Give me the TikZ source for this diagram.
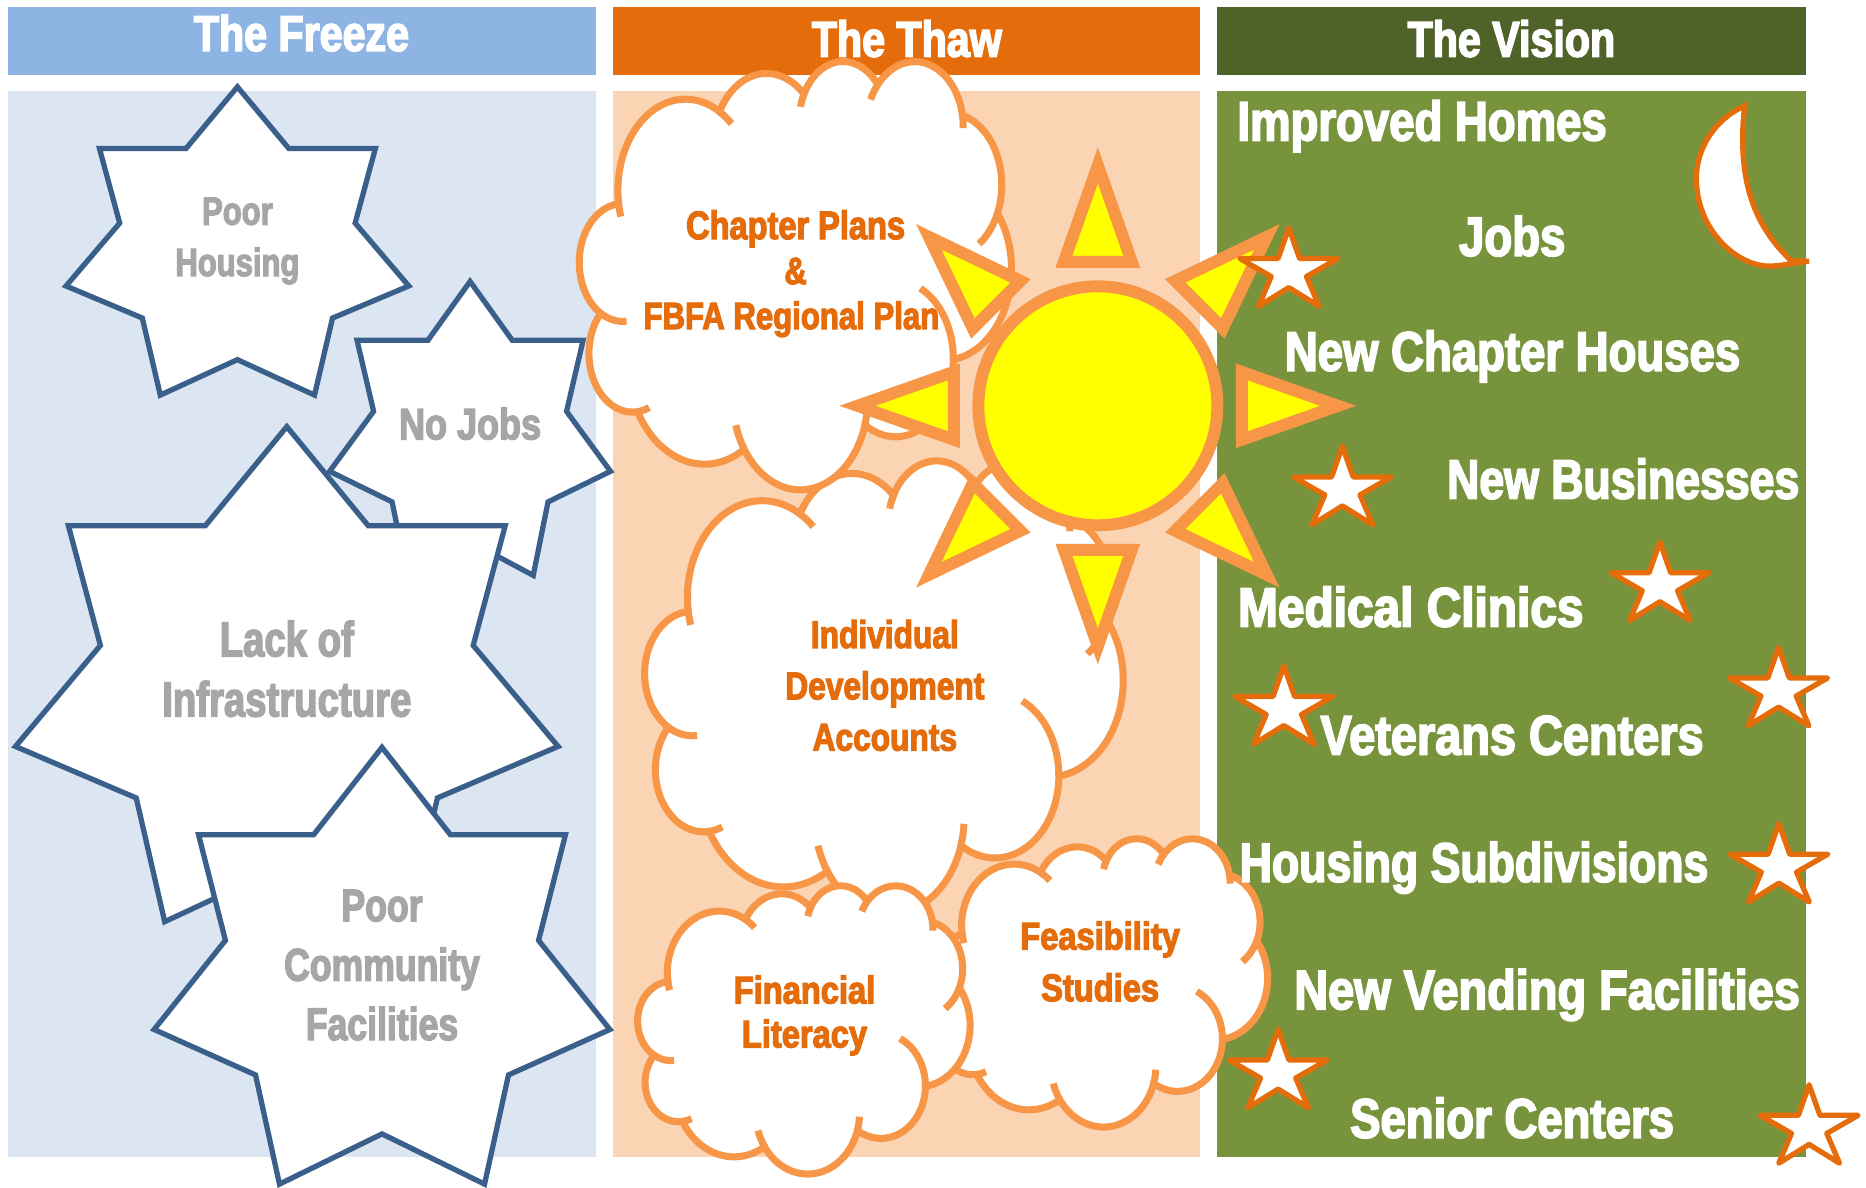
\documentclass[tikz,border=0pt]{standalone}
\usepackage{fontspec}
\newfontfamily\heavyfont[UprightFont=* Bold,FakeStretch=0.82,FakeBold=3]{Liberation Sans}
\definecolor{freezehead}{HTML}{8EB4E3}
\definecolor{freezepanel}{HTML}{DCE6F2}
\definecolor{thawhead}{HTML}{E46C0A}
\definecolor{thawpanel}{HTML}{FBD4B4}
\definecolor{visionhead}{HTML}{4F6228}
\definecolor{visionpanel}{HTML}{77933C}
\definecolor{burstline}{HTML}{3A5F8B}
\definecolor{sunline}{HTML}{F79646}
\definecolor{sunfill}{RGB}{255,255,0}
\definecolor{greytext}{HTML}{A6A6A6}
\tikzset{
  burst/.style={draw=burstline,fill=white,line width=1.5pt,miter limit=10},
  cloudline/.style={draw=sunline,line width=2pt},
  sunray/.style={draw=sunline,fill=sunfill,line width=3.4pt,miter limit=10},
  vstar/.style={x=0.49cm,y=-0.785cm,draw=thawhead,fill=white,line width=1.5pt,line join=round},
  headlabel/.style={text=white,anchor=base,inner sep=0pt,font=\heavyfont\fontsize{14.3}{17}\selectfont},
  visionlabel/.style={text=white,anchor=base,inner sep=0pt,font=\heavyfont\fontsize{15.8}{19}\selectfont},
  greylabel/.style={text=greytext,align=center,inner sep=0pt},
  thawlabel/.style={text=thawhead,align=center,inner sep=0pt}
}
% seven pointed star: centre x, top y, half width, height
\newcommand{\burststar}[4]{
  \draw[burst,shift={(#1,#2)},x={#3*0.0119cm},y={-#4*0.0119cm}]
    (0,0)--(.30,.2)--(.805,.2)--(.687,.442)--(1,.646)--(.555,.75)--(.45,1)--(0,.885)
    --(-.45,1)--(-.555,.75)--(-1,.646)--(-.687,.442)--(-.805,.2)--(-.30,.2)--cycle;
}
% cloud: left, top, width, height
\newcommand{\cloudshape}[4]{
  \begin{scope}[shift={(#1,#2)},x={#3*0.000275463cm},y={-#4*0.000275463cm}]
    \draw[cloudline,fill=white] (3.9,14.37)
      arc[start angle=172.25,delta angle=128.12,x radius=6.753,y radius=9.19]
      arc[start angle=-152.02,delta angle=106.58,x radius=5.333,y radius=7.267]
      arc[start angle=-153.49,delta angle=116.17,x radius=4.365,y radius=5.945]
      arc[start angle=-139.71,delta angle=129.49,x radius=4.857,y radius=6.595]
      arc[start angle=-74.77,delta angle=97.98,x radius=5.333,y radius=7.273]
      arc[start angle=-37.53,delta angle=119.39,x radius=6.775,y radius=9.22]
      arc[start angle=.46,delta angle=121.52,x radius=5.785,y radius=7.867]
      arc[start angle=16.84,delta angle=129.40,x radius=6.752,y radius=9.215]
      arc[start angle=58.98,delta angle=91.20,x radius=7.72,y radius=10.543]
      arc[start angle=83.31,delta angle=139.81,x radius=4.36,y radius=5.918]
      arc[start angle=120.35,delta angle=143.76,x radius=4.345,y radius=5.945] -- cycle;
    % inner arcs
    \foreach \cx/\cy/\rx/\ry/\ta/\tb in {10.59/13.13/6.753/9.19/163.2/172.25,
        10.59/13.13/6.753/9.19/-59.63/-47, 26.358/6.084/4.365/5.945/-166.6/-153.49,
        33.534/6.744/4.857/6.595/-155.2/-139.71, 33.534/6.744/4.857/6.595/-10.22/1,
        36.913/12.592/5.333/7.273/23.21/55, 31.616/30.139/5.785/7.867/-64.6/.46,
        22.09/34.142/6.752/9.215/3.8/16.84, 22.09/34.142/6.752/9.215/146.24/163,
        5.291/29.593/4.36/5.918/67.3/83.31, 4.304/20.416/4.345/5.945/84.7/120.35}
      \draw[cloudline] ({\cx+\rx*cos(\ta)},{\cy+\ry*sin(\ta)})
        arc[start angle=\ta,end angle=\tb,x radius=\rx,y radius=\ry];
  \end{scope}
}
\begin{document}
\begin{tikzpicture}[x=0.0119cm,y=-0.0119cm]
    \useasboundingbox (0,0) rectangle (1568,997.5);

    % Columns
    \fill[freezehead] (7,6) rectangle (501,63);
    \fill[thawhead] (515,6) rectangle (1008.5,63);
    \fill[visionhead] (1023,6) rectangle (1517.5,63);
    \fill[freezepanel] (7,76.5) rectangle (501,972);
    \fill[thawpanel] (515,76.5) rectangle (1008.5,972);
    \fill[visionpanel] (1023,76.5) rectangle (1517.5,972);

    % Freeze
    \burststar{199.5}{73}{144}{259}
    \node[greylabel,xscale=.96,font=\heavyfont\fontsize{11.2}{14.6}\selectfont] (housing) at (199.5,202.5) {Poor\\Housing};
    \burststar{395}{236.5}{118}{247}
    \node[greylabel,font=\heavyfont\fontsize{12.5}{15}\selectfont] (nojobs) at (395,356) {No Jobs};
    \burststar{241}{358.5}{228}{416}
    \node[greylabel,xscale=.95,font=\heavyfont\fontsize{14}{17.1}\selectfont] (infra) at (241,562) {Lack of\\Infrastructure};
    \burststar{321}{628}{191.5}{367}
    \node[greylabel,xscale=.95,font=\heavyfont\fontsize{13}{16.9}\selectfont] (community) at (321,811) {Poor\\Community\\Facilities};

    % Thaw
    \cloudshape{542}{386}{403}{382}
    \node[thawlabel,font=\heavyfont\fontsize{11}{14.6}\selectfont] (accounts) at (743.5,576) {Individual\\Development\\Accounts};
    \cloudshape{783}{704}{283}{243}
    \node[thawlabel,xscale=1.03,font=\heavyfont\fontsize{11}{14.7}\selectfont] (studies) at (924.4,808) {Feasibility\\Studies};
    \cloudshape{536}{743.5}{280}{243}
    \node[thawlabel,xscale=1.03,font=\heavyfont\fontsize{11}{12.5}\selectfont] (literacy) at (676,853.3) {Financial\\Literacy};
    \cloudshape{487}{50.5}{364}{361}
    \node[thawlabel,font=\heavyfont\fontsize{10.8}{12.8}\selectfont] (plans) at (665,230)
      {\hspace*{2.4pt}{\fontsize{11.3}{12.8}\selectfont Chapter Plans}\\\hspace*{2.4pt}\&\\FBFA Regional Plan};

    % Sun
    \node[circle,draw=sunline,fill=sunfill,line width=3.4pt,inner sep=0pt,minimum size=2.39cm] (sun) at (922.5,341) {};
    \foreach \a in {0,90,180,270} {
      \draw[sunray,shift={(sun.center)},rotate=\a] (0,-202)--(28.5,-121)--(-28.5,-121)--cycle;
      \draw[sunray,shift={(sun.center)},rotate=\a] (-142,-142)--(-65,-105)--(-105,-65)--cycle;
    }

    % Vision
    \draw[draw=thawhead,fill=white,line width=1.5pt,miter limit=10] (1466,89)
      .. controls (1441,100) and (1425,125) .. (1425.5,151)
      .. controls (1426,195) and (1462,226) .. (1490,223.5)
      .. controls (1498,223) and (1508,221) .. (1520,219.5)
      -- (1505,219)
      .. controls (1480,195) and (1458,160) .. (1466,89) -- cycle;
    \foreach \sx/\sy in {1083/191.5,1128/375,1394.8/455.5,1078.8/559.5,1494.5/544,1494.8/692,1074/865,1520.2/911.5}
      \draw[shift={(\sx,\sy)},vstar] (0,0)--(.22,.39)--(1,.39)--(.36,.62)--(.62,1)--(0,.76)
        --(-.62,1)--(-.36,.62)--(-1,.39)--(-.22,.39)--cycle;

    \node[visionlabel] (homes) at (1195,118) {Improved Homes};
    \node[visionlabel] (jobs) at (1270.7,215) {Jobs};
    \node[visionlabel] (houses) at (1271,311.5) {New Chapter Houses};
    \node[visionlabel,xscale=.98] (businesses) at (1364,419) {New Businesses};
    \node[visionlabel,xscale=1.05] (clinics) at (1185.5,526.5) {Medical Clinics};
    \node[visionlabel,xscale=1.03] (veterans) at (1270.6,634) {Veterans Centers};
    \node[visionlabel,xscale=.98] (subdivisions) at (1238.6,741) {Housing Subdivisions};
    \node[visionlabel,xscale=1.03] (vending) at (1300,848) {New Vending Facilities};
    \node[visionlabel] (seniors) at (1270.6,956) {Senior Centers};

    % Column titles
    \node[headlabel] (freeze) at (253.3,42.8) {The Freeze};
    \node[headlabel] (thaw) at (762,47.6) {The Thaw};
    \node[headlabel] (vision) at (1270,47.6) {The Vision};
\end{tikzpicture}
\end{document}
